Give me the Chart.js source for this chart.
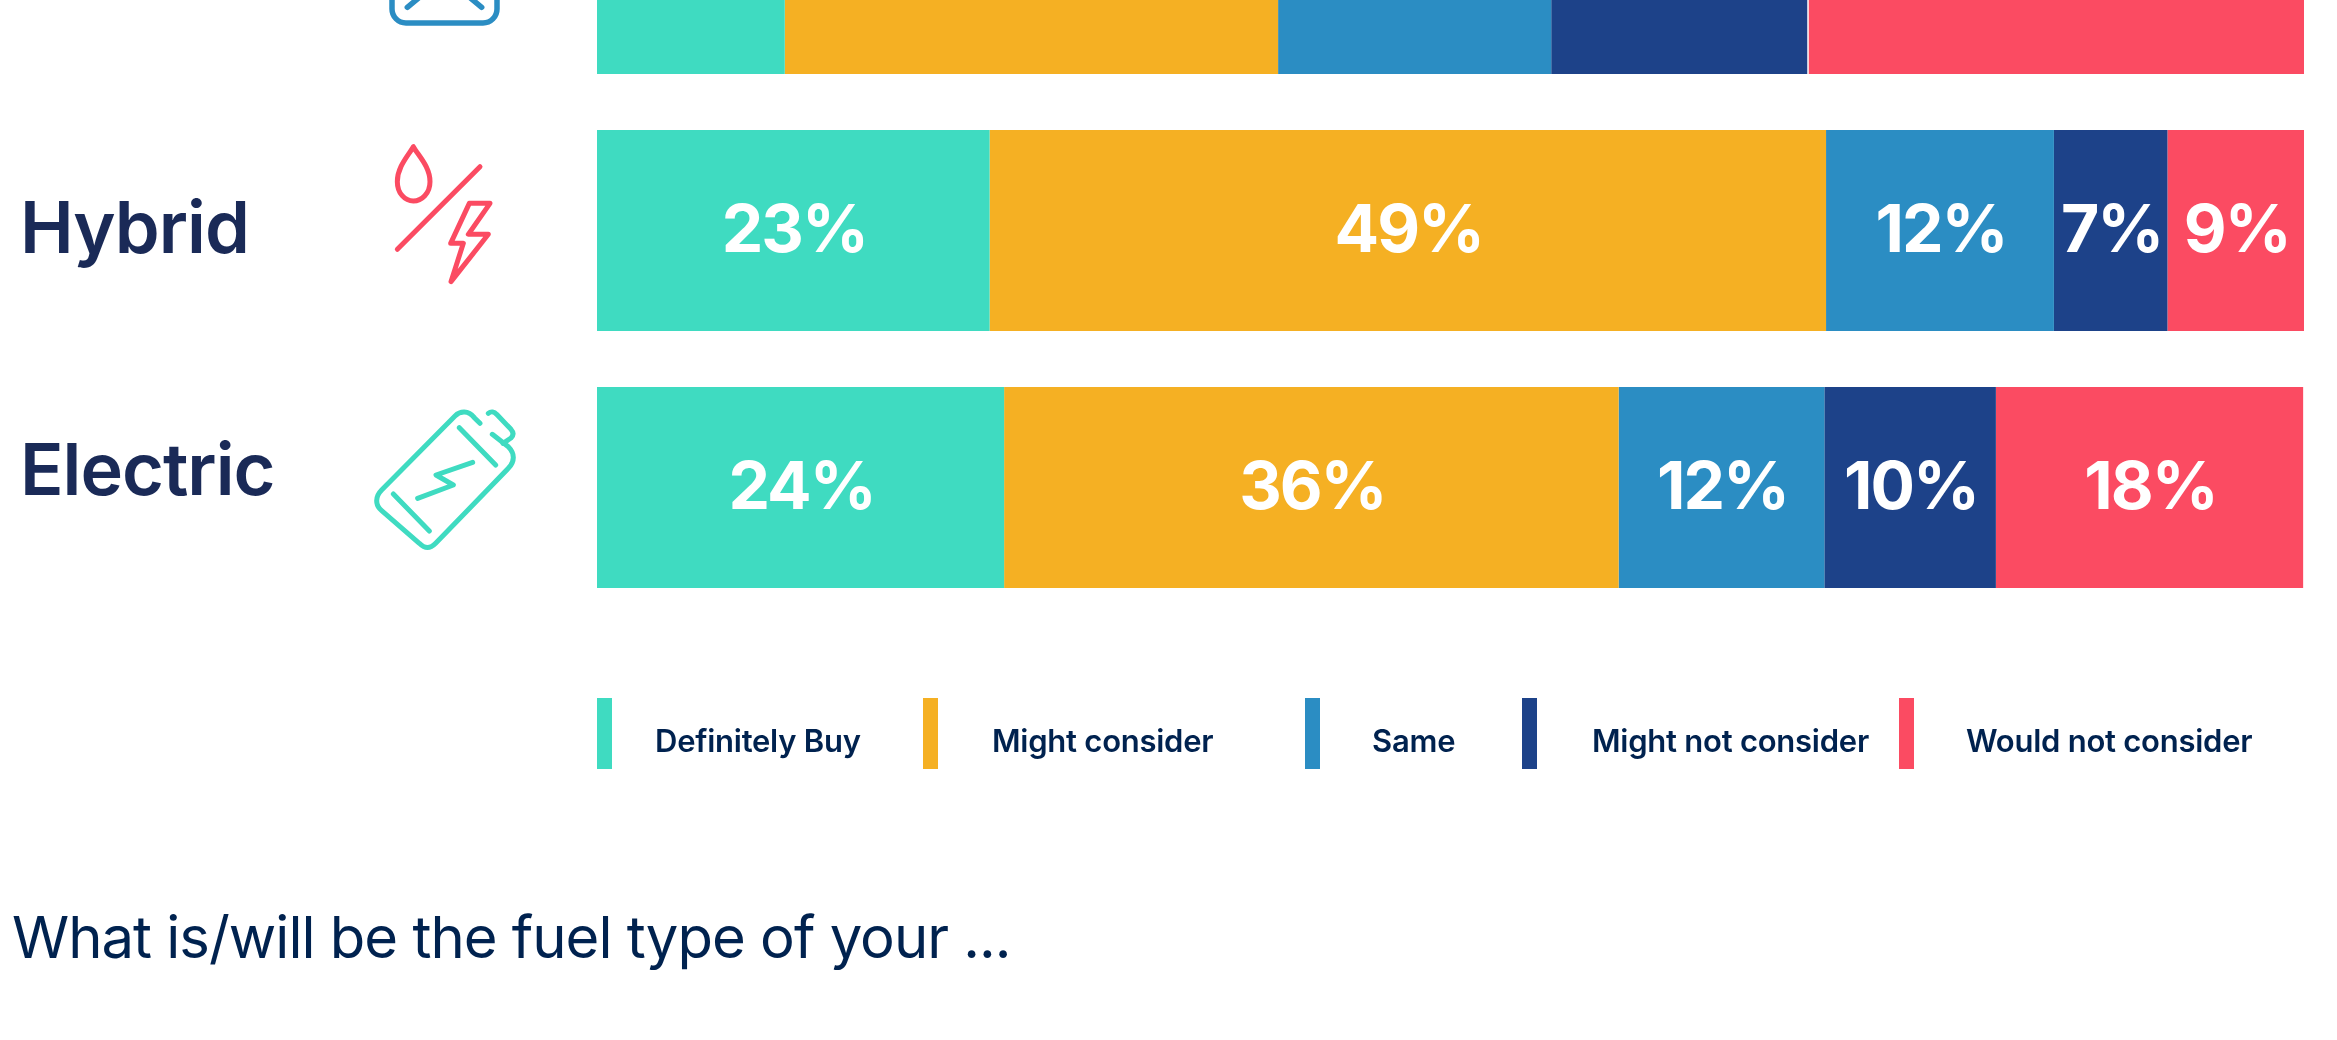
<!DOCTYPE html>
<html><head><meta charset="utf-8">
<style>
html,body{margin:0;padding:0;background:#fff;width:2337px;height:1040px;overflow:hidden;position:relative;font-family:"Inter","Liberation Sans",sans-serif}
#chart{position:absolute;left:0;top:-155px}
#title{position:absolute;left:12px;top:903px;font-size:58px;line-height:68px;color:#00224F;white-space:nowrap;letter-spacing:-1px}
.sw{position:absolute;top:698px;width:15px;height:71px}
.lg{position:absolute;top:723px;font-size:31px;line-height:36px;font-weight:600;color:#00224F;white-space:nowrap;letter-spacing:-.25px}
svg{position:absolute;left:0;top:0;pointer-events:none}
</style></head><body>
<canvas id="chart" width="2337" height="1195" style="width:2337px;height:1195px"></canvas>
<svg width="2337" height="1040" fill="none" stroke-linecap="round" stroke-linejoin="round">
 <g stroke="#2B8DC3" stroke-width="5.5">
  <path d="M392 -8V9a14 14 0 0 0 14 14H483a14 14 0 0 0 14-14V-8"/>
  <path d="M407.3 7.3L421 -4M481.7 7.3L468 -4"/>
 </g>
 <g transform="translate(380,135) scale(.3333)" stroke="#FB4B62" stroke-width="15">
  <path d="M100 35C85 62 52 95 52 140C52 175 75 198 100 198C125 198 150 175 150 140C150 95 115 62 100 35Z"/>
  <path d="M300 95L52 343"/>
  <path d="M268 205H330L265 298H325L213 440L250 325H212Z"/>
 </g>
 <g transform="translate(365,400) scale(.3333)" stroke="#3FDBC1" stroke-width="15">
  <path d="M345 70L328 53C310 30 285 33 270 48L50 270C30 290 30 315 50 332L163 430C180 447 195 447 212 430L430 205C450 185 450 160 430 140L382 103"/>
  <path d="M370 40C378 33 388 35 395 43L438 88C446 97 446 106 438 114L414 130"/>
  <path d="M283 83L392 195M85 282L193 393"/>
  <path d="M323 187L213 225L265 255L158 295"/>
 </g>
</svg>
<div id="legend"></div>
<div id="title">What is/will be the fuel type of your ...</div>
<script src="https://cdn.jsdelivr.net/npm/chart.js@4/dist/chart.umd.min.js"></script>
<script>
const categories = ["", "Hybrid", "Electric"];
const seriesNames = ["Definitely Buy", "Might consider", "Same", "Might not consider", "Would not consider"];
const seriesColors = ["#3FDBC1", "#F5B023", "#2B8DC3", "#1D4289", "#FB4B62"];

// bar lengths as drawn in the picture
const definitelyBuy = [11, 23, 23.85];
const mightConsider = [28.9, 49, 36];
const same = [16, 13.35, 12.05];
const mightNotConsider = [15, 6.65, 10.05];
const wouldNotConsider = [29.1, 8, 18];

// percentages as printed on the bars (top row is cut off by the picture edge)
const definitelyBuyText = [null, "23%", "24%"];
const mightConsiderText = [null, "49%", "36%"];
const sameText = [null, "12%", "12%"];
const mightNotConsiderText = [null, "7%", "10%"];
const wouldNotConsiderText = [null, "9%", "18%"];

const seriesValues = [definitelyBuy, mightConsider, same, mightNotConsider, wouldNotConsider];
const seriesText = [definitelyBuyText, mightConsiderText, sameText, mightNotConsiderText, wouldNotConsiderText];

const legendSwatchX = [597, 923, 1305, 1522, 1899];
const legendTextX = [655, 992, 1372, 1592, 1966];
const legendEl = document.getElementById("legend");
seriesNames.forEach((n, i) => {
  const s = document.createElement("div");
  s.className = "sw"; s.style.left = legendSwatchX[i] + "px"; s.style.background = seriesColors[i];
  const t = document.createElement("div");
  t.className = "lg"; t.style.left = legendTextX[i] + "px"; t.textContent = n;
  legendEl.append(s, t);
});

const rowLabelOffset = [0, 22, 7];
const barText = {
  id: "barText",
  afterDatasetsDraw(chart) {
    const ctx = chart.ctx, yScale = chart.scales.y;
    ctx.save();
    ctx.textBaseline = "alphabetic";
    ctx.fillStyle = "#FFFFFF"; ctx.textAlign = "center";
    ctx.font = "700 66px Inter";
    ctx.letterSpacing = "-2px";
    chart.data.datasets.forEach((ds, d) => {
      chart.getDatasetMeta(d).data.forEach((bar, i) => {
        const txt = seriesText[d][i];
        if (txt) ctx.fillText(txt, bar.getCenterPoint().x + 1, bar.y + 21);
      });
    });
    ctx.textAlign = "left"; ctx.fillStyle = "#1A2A57";
    ctx.font = "600 72px Inter";
    ctx.letterSpacing = "-1px";
    categories.forEach((c, i) => {
      if (c) ctx.fillText(c, 20, yScale.getPixelForTick(i) + rowLabelOffset[i]);
    });
    ctx.restore();
  }
};

new Chart(document.getElementById("chart"), {
  type: "bar",
  data: {
    labels: categories,
    datasets: seriesNames.map((n, i) => ({
      label: n, data: seriesValues[i], backgroundColor: seriesColors[i],
      borderWidth: i === 4 ? [{ left: 1.5 }, 0, 0] : 0,
      borderColor: "#FFFFFF", borderSkipped: false,
      barPercentage: 0.782, categoryPercentage: 1
    }))
  },
  options: {
    indexAxis: "y", responsive: false, animation: false, devicePixelRatio: 1,
    layout: { padding: { left: 597, right: 33, top: 0, bottom: 424 } },
    plugins: { legend: { display: false }, tooltip: { enabled: false }, title: { display: false } },
    scales: {
      x: { stacked: true, min: 0, max: 100, display: false },
      y: { stacked: true, display: false }
    }
  },
  plugins: [barText]
});
</script>
</body></html>
